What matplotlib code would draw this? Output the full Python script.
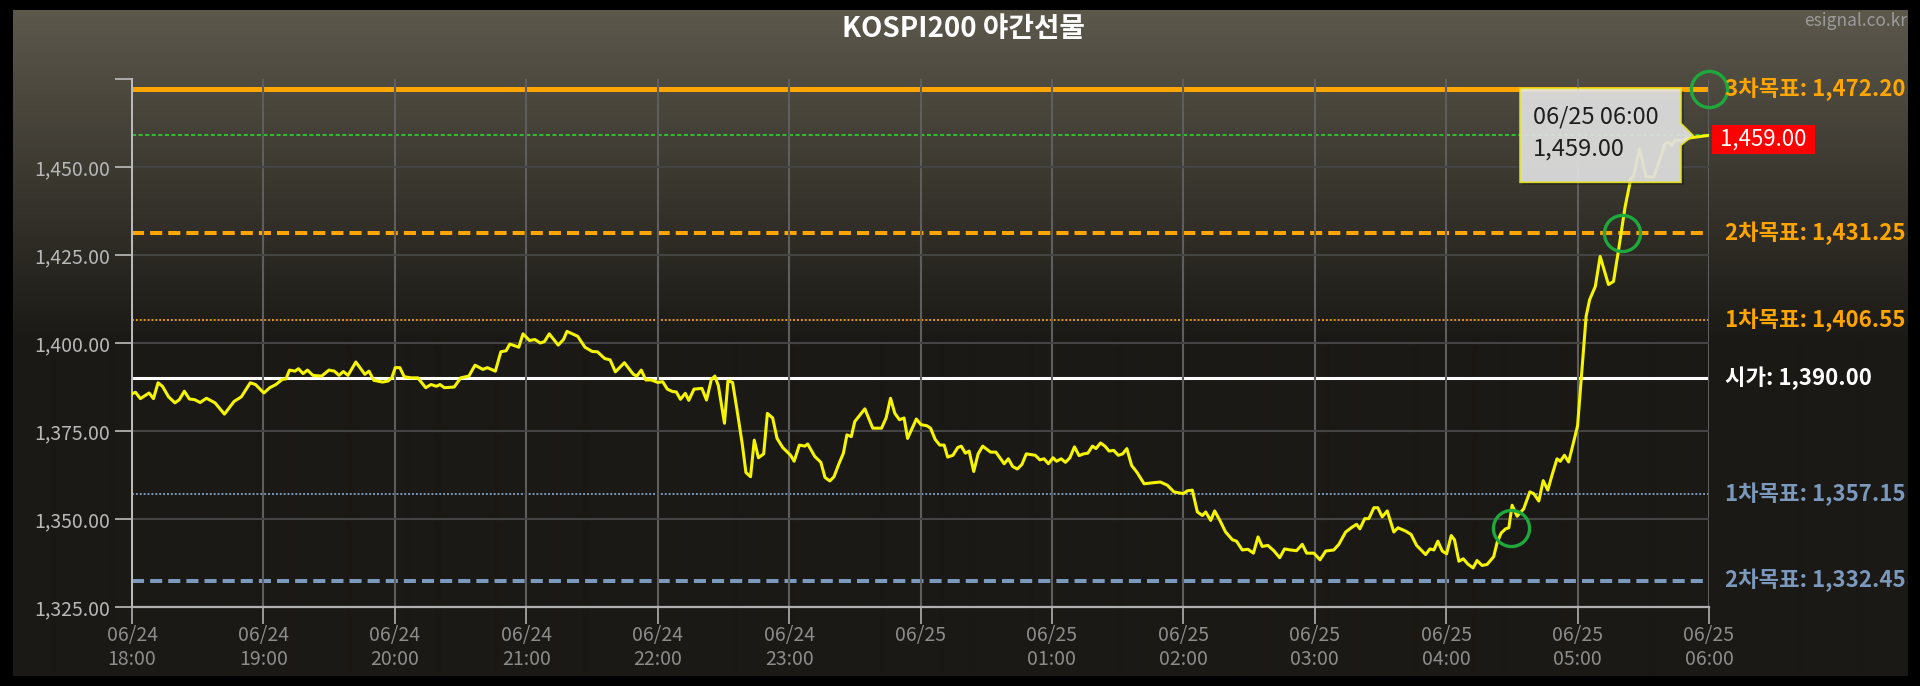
import numpy as np
import matplotlib
matplotlib.use("Agg")
import matplotlib.pyplot as plt
from matplotlib.patches import Polygon, Rectangle
from matplotlib.transforms import IdentityTransform, blended_transform_factory

plt.rcParams['font.family'] = ['Noto Sans CJK KR', 'DejaVu Sans']

# ---------------- data ----------------
title = "KOSPI200 야간선물"
watermark = "esignal.co.kr"

# minutes after 06/24 18:00
minutes = [
    0.0, 1.6, 3.8, 7.8, 9.8, 11.9, 13.9, 16.7, 19.6, 21.6, 23.9, 26.2, 28.6, 31.1, 34.0,
    37.9, 42.2, 46.6, 49.9, 54.0, 56.4, 60.2, 62.9, 65.7, 68.7, 70.3, 71.9, 74.4, 76.0,
    78.1, 80.1, 82.6, 86.6, 89.9, 92.4, 94.5, 96.5, 98.6, 102.2, 106.3, 108.2, 110.4,
    114.4, 116.9, 118.6, 120.2, 122.3, 124.3, 127.5, 130.5, 134.1, 136.5, 139.0, 140.6,
    142.6, 147.1, 150.1, 153.8, 156.6, 160.2, 162.2, 165.9, 168.4, 170.8, 172.5, 176.6,
    178.5, 181.5, 183.9, 186.4, 188.3, 190.5, 194.6, 197.0, 198.6, 201.1, 203.5, 206.8,
    210.1, 212.5, 215.8, 218.3, 220.7, 224.8, 228.9, 230.5, 232.5, 234.6, 237.1, 240.0,
    242.3, 244.4, 246.8, 248.5, 250.4, 252.6, 254.2, 256.6, 260.2, 262.3, 264.5, 266.1,
    267.7, 270.5, 272.1, 274.2, 276.2, 278.6, 280.3, 282.4, 284.1, 286.0, 288.4, 290.1,
    292.5, 294.5, 297.1, 300.7, 302.3, 304.7, 307.2, 308.5, 311.7, 314.5, 316.4, 318.6,
    320.5, 322.7, 324.8, 326.4, 328.4, 330.0, 334.6, 338.2, 342.2, 344.3, 346.3, 348.3,
    350.4, 352.5, 354.1, 358.1, 360.2, 362.9, 364.6, 366.7, 368.8, 370.8, 372.4, 374.8,
    377.0, 378.6, 380.5, 382.2, 384.3, 386.3, 388.4, 392.0, 394.4, 398.2, 400.1, 402.1,
    404.2, 406.3, 408.3, 412.4, 414.5, 416.4, 418.4, 420.5, 422.1, 424.2, 426.2, 428.2,
    430.3, 432.4, 434.4, 436.4, 438.5, 440.1, 442.2, 444.2, 446.1, 448.2, 450.3, 452.3,
    454.2, 456.4, 458.9, 462.1, 466.2, 469.5, 472.7, 475.7, 480.0, 481.8, 484.1, 486.4,
    488.7, 490.2, 492.5, 494.3, 496.7, 499.3, 502.4, 504.3, 506.9, 509.5, 512.0, 514.1,
    516.0, 518.6, 521.3, 524.0, 526.2, 528.9, 531.7, 534.3, 536.3, 539.6, 542.4, 545.0,
    548.7, 551.0, 554.1, 557.1, 559.1, 560.6, 562.8, 564.7, 567.0, 568.8, 570.8, 573.1,
    576.1, 578.0, 581.4, 584.0, 586.5, 590.6, 592.6, 594.4, 596.2, 598.2, 600.2, 602.3,
    603.8, 605.8, 607.8, 609.9, 612.3, 614.1, 616.4, 618.7, 621.7, 623.3, 625.1, 627.1,
    628.6, 630.1, 632.4, 635.4, 638.2, 640.0, 642.3, 644.3, 646.4, 648.3, 650.6, 652.1,
    654.0, 655.9, 657.4, 660.0, 662.0, 663.9, 665.5, 668.1, 670.3, 674.1, 676.4, 678.7,
    681.7, 684.3, 685.5, 688.3, 691.3, 694.9, 697.4, 699.9, 701.5, 703.0, 704.5, 707.5,
    711.6, 720.0,
]
prices = [
    1385.6, 1386.0, 1384.2, 1385.8, 1384.2, 1388.7, 1387.7, 1384.7, 1383.0, 1383.9, 1386.3, 1384.1, 1383.9, 1383.1, 1384.3,
    1383.0, 1379.8, 1383.4, 1384.7, 1388.7, 1388.2, 1385.8, 1387.3, 1388.2, 1389.7, 1389.8, 1392.3, 1392.0, 1392.7,
    1391.3, 1392.3, 1390.8, 1390.6, 1392.3, 1392.0, 1390.8, 1391.9, 1390.8, 1394.6, 1391.1, 1392.0, 1389.4,
    1388.9, 1389.2, 1390.1, 1393.0, 1393.0, 1390.4, 1390.1, 1390.1, 1387.3, 1388.2, 1387.7, 1388.2,
    1387.3, 1387.5, 1390.1, 1390.6, 1393.7, 1392.5, 1393.0, 1392.0, 1397.5, 1397.8, 1399.7, 1398.8,
    1402.6, 1400.7, 1401.0, 1400.0, 1400.4, 1402.6, 1399.4, 1401.0, 1403.3, 1402.6, 1401.9, 1398.8,
    1397.6, 1397.5, 1395.6, 1395.2, 1391.8, 1394.4, 1391.1, 1390.6, 1392.3, 1389.5, 1389.5, 1388.8,
    1389.0, 1386.9, 1386.2, 1386.1, 1384.0, 1385.7, 1383.7, 1386.9, 1387.1, 1383.8, 1389.6, 1390.6,
    1387.9, 1377.2, 1389.3, 1388.8, 1381.1, 1371.4, 1363.2, 1362.0, 1372.4, 1367.4, 1368.5, 1380.0,
    1378.7, 1372.9, 1370.3, 1368.1, 1366.4, 1371.0, 1370.7, 1371.3, 1367.8, 1366.1, 1361.8, 1360.8,
    1362.0, 1365.6, 1368.7, 1373.9, 1373.4, 1377.7, 1381.3, 1375.8, 1375.8, 1378.7, 1384.3, 1380.0,
    1378.2, 1378.7, 1372.9, 1378.4, 1376.8, 1376.5, 1375.8, 1372.6, 1371.0, 1371.0, 1367.6, 1368.1,
    1370.3, 1370.7, 1368.7, 1369.3, 1363.5, 1368.5, 1370.7, 1369.0, 1369.0, 1365.7, 1367.1, 1364.9,
    1364.2, 1365.5, 1368.5, 1368.1, 1366.8, 1367.1, 1365.7, 1367.4, 1366.4, 1367.1, 1366.1, 1367.4,
    1370.5, 1368.0, 1368.5, 1368.7, 1370.7, 1370.0, 1371.6, 1370.7, 1369.3, 1369.5, 1368.1, 1368.5,
    1370.0, 1365.2, 1363.2, 1360.0, 1360.3, 1360.5, 1359.6, 1357.7, 1357.2, 1358.0, 1358.2, 1352.0,
    1351.0, 1352.0, 1349.6, 1352.3, 1349.6, 1346.3, 1344.1, 1343.7, 1341.2, 1341.4, 1340.3, 1344.9,
    1342.2, 1342.5, 1341.0, 1339.0, 1341.5, 1341.2, 1341.0, 1342.8, 1340.3, 1340.3, 1338.4, 1340.9,
    1341.2, 1342.8, 1346.3, 1347.7, 1348.5, 1347.2, 1350.1, 1350.1, 1353.2, 1353.2, 1350.6, 1352.3,
    1346.3, 1347.5, 1346.6, 1345.6, 1342.5, 1339.9, 1341.5, 1341.2, 1343.7, 1340.9, 1340.1, 1345.3,
    1344.1, 1338.0, 1338.7, 1337.2, 1336.1, 1338.2, 1336.8, 1337.1, 1339.3, 1343.4, 1346.0, 1347.2,
    1347.5, 1353.9, 1350.8, 1352.9, 1357.7, 1357.2, 1355.1, 1360.9, 1358.2, 1362.4, 1367.1, 1366.4,
    1368.1, 1366.2, 1369.9, 1376.5, 1392.5, 1407.6, 1412.3, 1416.1, 1424.6, 1416.6, 1417.5, 1426.4,
    1438.7, 1446.7, 1447.2, 1455.2, 1447.2, 1447.2, 1451.9, 1456.6, 1457.0, 1456.1, 1457.7, 1457.5,
    1458.3, 1459.0,
]

tick_minutes = [0, 60, 120, 180, 240, 300, 360, 420, 480, 540, 600, 660, 720]
tick_labels = ["06/24\n18:00", "06/24\n19:00", "06/24\n20:00", "06/24\n21:00",
               "06/24\n22:00", "06/24\n23:00", "06/25", "06/25\n01:00",
               "06/25\n02:00", "06/25\n03:00", "06/25\n04:00", "06/25\n05:00",
               "06/25\n06:00"]
y_ticks = [1325, 1350, 1375, 1400, 1425, 1450, 1475]
y_tick_labels = ["1,325.00", "1,350.00", "1,375.00", "1,400.00", "1,425.00", "1,450.00", ""]

level_names = ["3차목표", "2차목표", "1차목표", "시가", "1차목표", "2차목표"]
level_values = [1472.20, 1431.25, 1406.55, 1390.00, 1357.15, 1332.45]

signal_minutes = [629.7, 680.4, 720.0]
signal_prices = [1347.4, 1431.25, 1472.20]

last_time_label = "06/25 06:00"

# ---------------- styles ----------------
ORANGE = "#ffa500"
BLUE = "#7b98bd"
level_styles = [
    dict(color=ORANGE, lw=3.6, ls="-"),
    dict(color=ORANGE, lw=2.9, ls=(0, (3.0, 1.5))),
    dict(color="#e89a10", lw=1.4, ls=(0, (1, 1))),
    dict(color="#ffffff", lw=2.2, ls="-"),
    dict(color=BLUE, lw=1.4, ls=(0, (1, 1))),
    dict(color=BLUE, lw=2.9, ls=(0, (3.0, 1.5))),
]
label_colors = [ORANGE, ORANGE, ORANGE, "#ffffff", BLUE, BLUE]

W, H = 1920, 686
fig = plt.figure(figsize=(W / 100, H / 100), dpi=100, facecolor="black")

# background panel with gradient
bg = fig.add_axes([0, 0, 1, 1], zorder=-10)
bg.set_axis_off()
bg.set_xlim(0, W)
bg.set_ylim(H, 0)
panel_top, panel_bottom, panel_left, panel_right = 10, 676, 13, 1908
rows = np.arange(panel_bottom - panel_top)
t = np.clip(rows / 330.0, 0, 1)[:, None]
top_c = np.array([92, 88, 76]) / 255
bot_c = np.array([27, 25, 21]) / 255
grad = (top_c[None, :] * (1 - t) + bot_c[None, :] * t)[:, None, :]
bg.imshow(grad, extent=(panel_left, panel_right, panel_bottom, panel_top), aspect="auto",
          interpolation="bilinear")
bg.set_facecolor("black")

# main axes
ax = fig.add_axes([132 / W, (H - 607) / H, (1709 - 132) / W, (607 - 79) / H])
ax.patch.set_alpha(0)
ax.set_xlim(0, 720)
ax.set_ylim(1325, 1475)

for val, st in zip(level_values, level_styles):
    ax.axhline(val, color=st["color"], lw=st["lw"], ls=st["ls"], zorder=1)

ax.axhline(prices[-1], color="#2ee02e", lw=1.1, ls=(0, (2.7, 1.6)), zorder=1.2)

ax.plot(minutes, prices, color="#f5f500", lw=2.2, zorder=3, solid_joinstyle="round")

ax.plot(signal_minutes, signal_prices, ls="none", marker="o", ms=26, mfc="none",
        mec="#1fa83c", mew=2.4, zorder=4, clip_on=False)

ax.set_axisbelow("line")
ax.set_xticks(tick_minutes)
ax.set_xticklabels(tick_labels)
ax.set_yticks(y_ticks)
ax.set_yticklabels(y_tick_labels)
ax.grid(axis="x", color="#5e5e5e", lw=1.5)
ax.grid(axis="y", color="#444444", lw=1.5)
ax.yaxis.get_gridlines()[-1].set_visible(False)
ax.yaxis.get_gridlines()[0].set_visible(False)

for s in ["top", "right"]:
    ax.spines[s].set_visible(False)
ax.spines["left"].set_color("#bdbdbd")
ax.spines["left"].set_linewidth(1.4)
ax.spines["bottom"].set_color("#b0b0b0")
ax.spines["bottom"].set_linewidth(1.6)
ax.tick_params(axis="y", length=12, width=1.2, color="#bdbdbd", labelcolor="#b8b8b8",
               labelsize=14, pad=4)
ax.tick_params(axis="x", length=12, width=1.2, color="#b0b0b0", labelcolor="#8c8c8c",
               labelsize=14, pad=1)
for lab in ax.get_xticklabels():
    lab.set_linespacing(1.2)
    lab.set_verticalalignment("top")

# right-side level labels
trans = blended_transform_factory(ax.transAxes, ax.transData)
for name, val, col in zip(level_names, level_values, label_colors):
    ax.annotate(f"{name}: {val:,.2f}", xy=(1, val), xycoords=trans,
                xytext=(16, 0), textcoords="offset pixels", ha="left", va="center",
                fontsize=16, fontweight="bold", color=col, zorder=5, annotation_clip=False)

# title & watermark
fig.text(963 / W, 1 - 29 / H, title, ha="center", va="center", fontsize=20,
         fontweight="bold", color="white")
fig.text(1907 / W, 1 - 21 / H, watermark, ha="right", va="center", fontsize=12.5,
         color="#9a9a9a")

# tooltip & last-price box anchored at last point
fig.canvas.draw()
px, py = ax.transData.transform((minutes[-1], prices[-1]))
L, R, T, B = px - 189, px - 28, py + 47, py - 47
shadow = Polygon([(L + 3, T - 3), (R + 3, T - 3), (R + 3, B - 3), (L + 3, B - 3)],
                 closed=True, transform=IdentityTransform(), fc="black", ec="none",
                 alpha=0.25, zorder=5, clip_on=False)
ax.add_patch(shadow)
tip = Polygon([(L, T), (R, T), (R, py + 12), (px - 16, py), (R, py - 10), (R, B), (L, B)],
              closed=True, transform=IdentityTransform(), fc="#e6e6e6", ec="#e6e61a",
              lw=1.2, alpha=0.9, zorder=6, clip_on=False)
ax.add_patch(tip)
ax.text(px - 176, py + 18, last_time_label, transform=IdentityTransform(), ha="left",
        va="center", fontsize=17, color="#1e1e1e", zorder=7, clip_on=False)
ax.text(px - 176, py - 14, f"{prices[-1]:,.2f}", transform=IdentityTransform(), ha="left",
        va="center", fontsize=17, color="#1e1e1e", zorder=7, clip_on=False)

box = Rectangle((px + 3, py - 18.5), 103, 29, transform=IdentityTransform(), fc="#ff0000",
                ec="none", zorder=6, clip_on=False)
ax.add_patch(box)
ax.text(px + 54.5, py - 4, f"{prices[-1]:,.2f}", transform=IdentityTransform(),
        ha="center", va="center", fontsize=16, color="white", zorder=7, clip_on=False)

fig.savefig("out.png", dpi=100, facecolor="black")
